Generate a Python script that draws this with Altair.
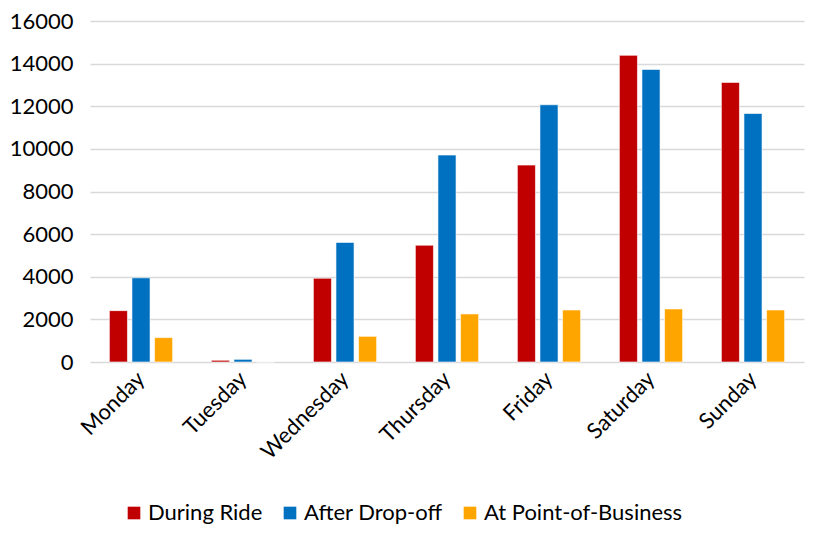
import altair as alt
import pandas as pd

days = ["Monday", "Tuesday", "Wednesday", "Thursday", "Friday", "Saturday", "Sunday"]
series = ["During Ride", "After Drop-off", "At Point-of-Business"]
colors = ["#C00000", "#0070C0", "#FFA500"]

during_ride = [2410, 80, 3930, 5480, 9240, 14390, 13120]
after_dropoff = [3950, 125, 5610, 9710, 12070, 13730, 11660]
at_business = [1145, 0, 1205, 2255, 2440, 2490, 2440]

rows = []
for i, d in enumerate(days):
    for s, vals in zip(series, [during_ride, after_dropoff, at_business]):
        rows.append({"day": d, "series": s, "value": vals[i]})
df = pd.DataFrame(rows)

FONT = "Lato"

chart = alt.Chart(df).mark_bar(stroke="white", strokeWidth=0.6).encode(
    x=alt.X("day:N", sort=days,
            scale=alt.Scale(paddingInner=0.38, paddingOuter=0.19),
            axis=alt.Axis(title=None, labelAngle=-45, labelAlign="right", labelBaseline="middle",
                          labelFontSize=22, labelFont=FONT, labelColor="#000000",
                          ticks=False, domain=False, labelPadding=13)),
    xOffset=alt.XOffset("series:N", sort=series,
                        scale=alt.Scale(paddingInner=0.2, paddingOuter=0)),
    y=alt.Y("value:Q", scale=alt.Scale(domain=[0, 16000]),
            axis=alt.Axis(values=list(range(0, 16001, 2000)), title=None, format="d",
                          domain=False, ticks=False, labelPadding=17,
                          gridColor="#d9d9d9", gridWidth=1.5,
                          labelFontSize=22, labelFont=FONT, labelColor="#000000")),
    color=alt.Color("series:N", sort=series,
                    scale=alt.Scale(domain=series, range=colors),
                    legend=alt.Legend(orient="none", legendX=33, legendY=481,
                                      direction="horizontal", title=None,
                                      symbolType="square", symbolSize=160, symbolStrokeWidth=0,
                                      labelFontSize=22, labelFont=FONT, labelColor="#000000",
                                      labelLimit=0, labelOffset=3, columnPadding=16)),
).properties(
    width=714, height=341, background="white",
    padding={"top": 2, "left": 1, "right": 5, "bottom": 5},
).configure_view(stroke=None)

chart.save("out.html", embed_options={"renderer": "svg", "actions": False})
